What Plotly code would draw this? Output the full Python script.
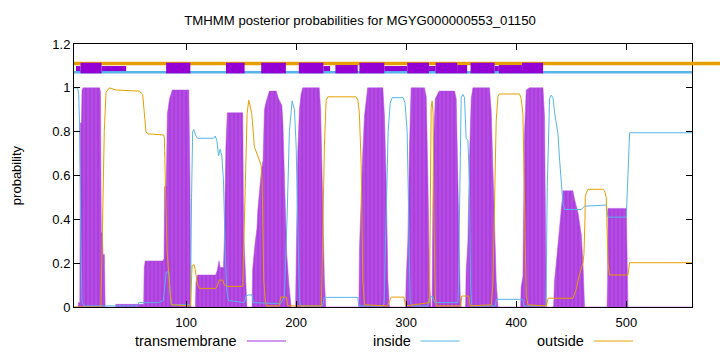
import plotly.graph_objects as go

# ---------------- data ----------------
TITLE = "TMHMM posterior probabilities for MGYG000000553_01150"
X_RANGE = [-1.8, 559.7]
Y_RANGE = [0, 1.2]
X_TICKS = [100, 200, 300, 400, 500]
Y_TICKS = [0, 0.2, 0.4, 0.6, 0.8, 1.0, 1.2]
Y_TICK_TEXT = ["0", "0.2", "0.4", "0.6", "0.8", "1", "1.2"]

# transmembrane posterior probability (breakpoints)
TM_X = [-1.8, 2, 2.2, 3.5, 3.9, 5, 5.5, 6.5, 21.5, 22.3, 23, 24, 24.5, 25.8, 26.5,
        36, 36.2, 61.5, 62, 63, 78.8, 80, 80.5, 82, 83, 85, 87.5, 102.5, 103.5, 104.5,
        108.5, 109, 110.5, 127, 128.5, 130, 131, 134, 134.8, 136.2, 137.5, 151.5, 152.3, 153.8, 155.3,
        160, 160.5, 162.5, 164.5, 165.2, 167, 168.2, 170, 171.2, 173, 175.7, 182, 184, 187, 188, 190.5, 191.5, 193.5, 195.5,
        199.5, 200, 201.5, 203, 204.5, 206, 221, 222.3, 223.4, 224.5, 225.7, 227,
        257, 257.6, 259, 260.6, 262.1, 265, 278.8, 280.3, 281.8, 283.4, 284.8,
        299.5, 300, 301.5, 303, 304.5, 316.6, 318.2, 319.7, 321.2, 322.5,
        323.5, 324.3, 325, 326.4, 330, 343.9, 345.5, 347.5, 349.1, 350,
        354, 354.5, 356.1, 357.5, 359.1, 360.6, 375.7, 377.3, 380.3, 381.8, 383.4,
        404, 404.5, 406.1, 407.5, 409.1, 412, 424.3, 425.7, 427.3,
        434, 434.8, 436.4, 439.4, 440.9, 442.5, 451.5, 453, 456.1, 459.1, 460.6, 462.1,
        482.5, 483, 483.4, 500, 501.5, 559.7]
TM_Y = [0, 0, 0.02, 0.02, 0.84, 0.84, 0.99, 1.0, 1.0, 0.98, 0.34, 0.34, 0.24, 0.24, 0.0,
        0, 0.012, 0.012, 0.18, 0.21, 0.21, 0.22, 0.55, 0.55, 0.88, 0.95, 0.99, 0.99, 0.6, 0.0,
        0, 0.11, 0.146, 0.146, 0.17, 0.21, 0.18, 0.18, 0.31, 0.73, 0.886, 0.886, 0.34, 0.12, 0.0,
        0, 0.17, 0.28, 0.36, 0.44, 0.55, 0.61, 0.67, 0.9, 0.94, 0.985, 0.985, 0.95, 0.92, 0.84, 0.4, 0.24, 0.1, 0,
        0, 0.17, 0.7, 0.9, 0.97, 1.0, 1.0, 0.9, 0.65, 0.3, 0.12, 0,
        0, 0.27, 0.5, 0.71, 0.87, 1.0, 1.0, 0.87, 0.58, 0.12, 0,
        0, 0.12, 0.3, 0.73, 1.0, 1.0, 0.96, 0.6, 0.12, 0,
        0, 0.5, 0.76, 0.95, 0.985, 0.985, 0.95, 0.45, 0.05, 0,
        0, 0.16, 0.3, 0.67, 0.95, 1.0, 1.0, 0.89, 0.39, 0.12, 0,
        0, 0.09, 0.14, 0.79, 0.99, 1.0, 1.0, 0.87, 0,
        0, 0.12, 0.2, 0.37, 0.46, 0.53, 0.53, 0.49, 0.43, 0.33, 0.2, 0,
        0, 0.1, 0.45, 0.45, 0, 0]

# inside posterior probability
IN_X = [-1.8, 1.5, 2.5, 3.2, 4.5, 5.5, 7, 56, 57, 75, 79.5, 81, 82, 84.5, 85.5, 87,
        104, 105, 106, 107, 109, 110.5, 125, 126.5, 128, 129.5, 131, 132.5, 134, 135.5, 137, 138.5,
        153, 154.5, 157, 160, 161, 186, 189.4, 191.8, 193.9, 196.4, 198.5, 200, 201.5, 203, 204,
        224, 225.7, 256, 257, 279, 280, 281.8, 283.6, 285.5, 287.3, 297.3, 299, 300.9, 302.3, 303.6, 305,
        319.5, 321, 324, 326, 347, 347.5, 349.1, 350, 351.5, 353, 354.5, 356.1, 357.5, 358.5, 359.5,
        381, 382, 406, 407, 427, 428.2, 430.3, 431.8, 433.4, 434.8, 437.9, 439.4, 440.9, 442.5, 444,
        459.1, 462.1, 481.8, 483.4, 500, 501.5, 503, 559.7]
IN_Y = [1.0, 1.0, 0.97, 0.84, 0.3, 0.02, 0.005, 0.005, 0.02, 0.02, 0.03, 0.1, 0.16, 0.16, 0.06, 0.01,
        0.01, 0.5, 0.8, 0.81, 0.78, 0.77, 0.77, 0.78, 0.76, 0.69, 0.72, 0.69, 0.58, 0.27, 0.07, 0.03,
        0.02, 0.05, 0.055, 0.055, 0.02, 0.015, 0.05, 0.41, 0.8, 0.94, 0.9, 0.74, 0.32, 0.04, 0.005,
        0.005, 0.044, 0.044, 0.005, 0.005, 0.02, 0.4, 0.8, 0.93, 0.955, 0.955, 0.93, 0.8, 0.4, 0.03, 0.005,
        0.005, 0.04, 0.05, 0.02, 0.02, 0.1, 0.55, 0.955, 0.97, 0.955, 0.77, 0.76, 0.57, 0.1, 0.005,
        0.005, 0.035, 0.035, 0.005, 0.005, 0.55, 0.95, 0.967, 0.955, 0.89, 0.79, 0.67, 0.56, 0.47, 0.445,
        0.445, 0.46, 0.465, 0.41, 0.41, 0.6, 0.795, 0.795]

# outside posterior probability
OUT_X = [-1.8, 22.7, 24.3, 25.7, 27.3, 30.3, 36.4, 57.5, 60.6, 62.1, 63.6, 65.2, 79.7, 80.3, 80.9, 81.8, 82.7, 84.8, 86.4,
         104, 105.5, 107.5, 109.1, 110.6, 112.1, 127.3, 130.3, 133.4, 134.8, 137.9, 151.5, 152.5, 153.6, 155.5, 157,
         159.7, 162.1, 165.2, 168.2, 169.1, 169.7, 170.6, 171.8, 173, 184.8, 186, 191, 192.5,
         223, 224.3, 225.7, 227.3, 228.8, 254.5, 256.1, 257.5, 259.1, 260.6, 262.1,
         283, 285, 286.5, 298, 299.5, 321.2, 322.1, 322.7, 323.6, 324.5, 325.2, 326.4, 327.5,
         349.5, 350.5, 357, 358, 377.3, 378.8, 380.3, 381.8, 383.4, 384.5, 403, 404.5, 406.1, 407, 408.2, 409.1, 410.6,
         427.5, 429, 451.5, 454.5, 457.5, 460.6, 461.5, 462.5, 462.7, 463.6, 465.2, 478.8, 480.3, 481.8, 482.7, 483.4, 484.8,
         501.5, 503, 559.7]
OUT_Y = [0, 0, 0.43, 0.8, 0.98, 1.0, 0.99, 0.985, 0.97, 0.89, 0.8, 0.79, 0.785, 0.77, 0.65, 0.43, 0.26, 0.12, 0.01,
         0.005, 0.19, 0.192, 0.138, 0.1, 0.085, 0.085, 0.123, 0.123, 0.1, 0.094, 0.094, 0.3, 0.58, 0.883, 0.944,
         0.883, 0.731, 0.693, 0.648, 0.579, 0.351, 0.123, 0.04, 0.005, 0.005, 0.045, 0.045, 0.005,
         0.005, 0.35, 0.73, 0.944, 0.959, 0.959, 0.944, 0.883, 0.655, 0.123, 0.01,
         0.005, 0.03, 0.045, 0.045, 0.005, 0.02, 0.58, 0.91, 0.94, 0.88, 0.43, 0.05, 0.005,
         0.005, 0.05, 0.05, 0.005, 0.01, 0.1, 0.5, 0.85, 0.96, 0.972, 0.972, 0.95, 0.88, 0.58, 0.15, 0.05, 0.01,
         0.005, 0.04, 0.04, 0.08, 0.15, 0.2, 0.24, 0.4, 0.5, 0.52, 0.537, 0.537, 0.53, 0.5, 0.36, 0.2, 0.146,
         0.146, 0.202, 0.202]

# predicted topology strip at the top
TM_FULL = [(4.1, 23.2), (81.9, 103.9), (136.3, 153.2), (168.3, 190.7), (202.5, 224.8),
           (257.5, 280.1), (301.0, 320.7), (326.8, 346.3), (358.5, 380.3), (405.3, 424.4)]
TM_NARROW = [(0.0, 4.1), (23.2, 45.6), (224.8, 230.9), (280.1, 301.0), (320.7, 326.8), (380.3, 384.2)]
TM_LOWER = [(235.7, 256.0), (346.3, 355.4), (384.2, 405.3)]
OUTSIDE_LEVEL = 1.111
INSIDE_LEVEL = 1.0714
FULL_BAND = (1.066, 1.1145)
NARROW_BAND = (1.0766, 1.0995)
LOWER_BAND = (1.066, 1.104)

LEGEND = ["transmembrane", "inside", "outside"]

# ---------------- styles / layout ----------------
PURPLE = "#9400D3"
BLUE = "#56B4E9"
ORANGE = "#E69F00"
W, H = 720, 352
ML, MR, MT, MB = 74, 28, 44, 45
PW, PH = W - ML - MR, H - MT - MB
FONT = "Liberation Sans, Arial, sans-serif"


def px_x(px):
    return (px - ML) / PW


def px_y(py):
    return (H - MB - py) / PH


fig = go.Figure()
fig.add_trace(go.Scatter(
    x=TM_X, y=TM_Y, mode="lines", line=dict(color="#b04ae0", width=0.5),
    fill="tozeroy", fillcolor="#ad3fdf",
    fillpattern=dict(shape="|", fgcolor="#cf8cef", bgcolor="#ad3fdf", size=4, solidity=0.18),
    hoverinfo="skip", showlegend=False))
fig.add_trace(go.Scatter(x=IN_X, y=IN_Y, mode="lines", line=dict(color=BLUE, width=1),
                         showlegend=False))
fig.add_trace(go.Scatter(x=OUT_X, y=OUT_Y, mode="lines", line=dict(color=ORANGE, width=1),
                         showlegend=False))

shapes = []
# outside / inside bars (outside one runs past the frame as in the reference)
shapes.append(dict(type="line", xref="x", yref="y", x0=X_RANGE[0], x1=X_RANGE[1],
                   y0=OUTSIDE_LEVEL, y1=OUTSIDE_LEVEL, line=dict(color=ORANGE, width=3.6)))
shapes.append(dict(type="line", xref="paper", yref="paper", x0=1.0, x1=px_x(W),
                   y0=OUTSIDE_LEVEL / Y_RANGE[1], y1=OUTSIDE_LEVEL / Y_RANGE[1],
                   line=dict(color=ORANGE, width=3.6)))
shapes.append(dict(type="line", xref="x", yref="y", x0=X_RANGE[0], x1=X_RANGE[1],
                   y0=INSIDE_LEVEL, y1=INSIDE_LEVEL, line=dict(color=BLUE, width=2.4)))
for segs, band in ((TM_NARROW, NARROW_BAND), (TM_LOWER, LOWER_BAND), (TM_FULL, FULL_BAND)):
    for a, b in segs:
        shapes.append(dict(type="rect", xref="x", yref="y", x0=a, x1=b, y0=band[0], y1=band[1],
                           fillcolor=PURPLE, line=dict(width=0)))

# legend (gnuplot style: text then sample)
leg_samples = [(247, 286), (420.5, 459.5), (594, 633)]
leg_colors = ["#a030e0", BLUE, ORANGE]
leg_y = 341
annotations = []
for name, (s0, s1), col in zip(LEGEND, leg_samples, leg_colors):
    shapes.append(dict(type="line", xref="paper", yref="paper", x0=px_x(s0), x1=px_x(s1),
                       y0=px_y(leg_y), y1=px_y(leg_y), line=dict(color=col, width=1)))
    annotations.append(dict(xref="paper", yref="paper", x=px_x(s0 - 8), y=px_y(leg_y),
                            text=name, showarrow=False, xanchor="right", yanchor="middle",
                            font=dict(family=FONT, size=14.5, color="black")))

fig.update_layout(
    width=W, height=H,
    margin=dict(l=ML, r=MR, t=MT, b=MB, pad=0),
    paper_bgcolor="white", plot_bgcolor="white",
    title=dict(text=TITLE, x=0.5, xref="container", xanchor="center",
               y=1 - 20 / H, yref="container", yanchor="middle",
               font=dict(family=FONT, size=13.2, color="black")),
    font=dict(family=FONT, size=13, color="black"),
    shapes=shapes, annotations=annotations, showlegend=False,
    xaxis=dict(range=X_RANGE, tickvals=X_TICKS, ticks="inside", ticklen=6, tickcolor="black",
               showline=True, linecolor="black", linewidth=1, mirror="allticks",
               showgrid=False, zeroline=False, tickfont=dict(family=FONT, size=13),
               ticklabelstandoff=3),
    yaxis=dict(range=Y_RANGE, tickvals=Y_TICKS, ticktext=Y_TICK_TEXT, ticks="inside", ticklen=6,
               tickcolor="black", showline=True, linecolor="black", linewidth=1, mirror="allticks",
               showgrid=False, zeroline=False, tickfont=dict(family=FONT, size=13),
               title=dict(text="probability", font=dict(family=FONT, size=13), standoff=27)),
)

fig.write_html("out.html")
